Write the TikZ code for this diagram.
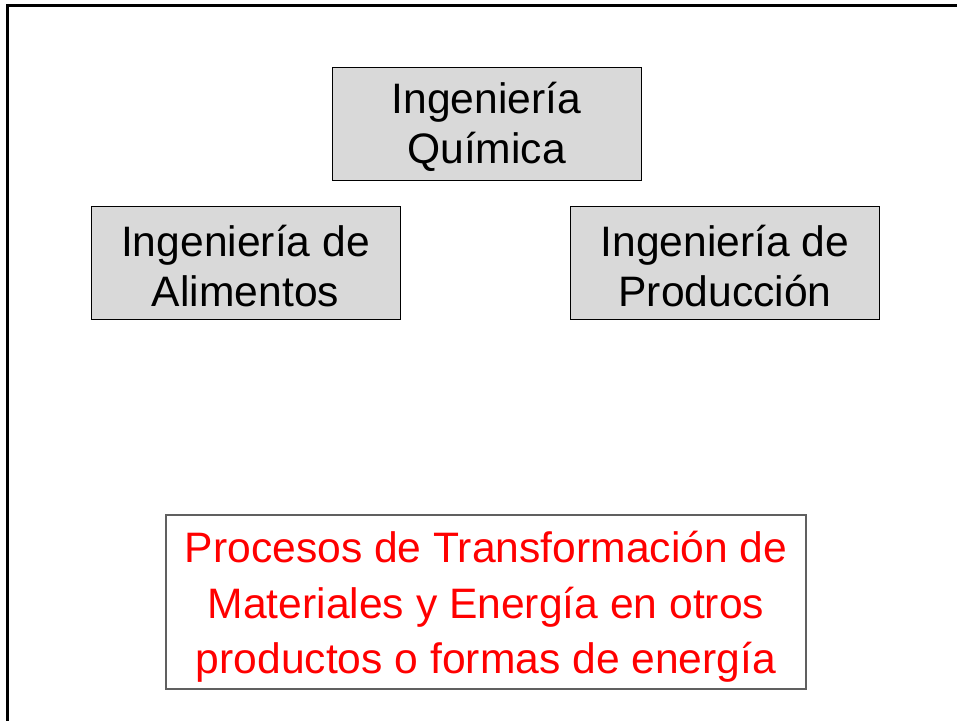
\documentclass[tikz,border=0pt]{standalone}
\usepackage{fontspec}
\setmainfont{Liberation Sans}
\definecolor{boxgray}{HTML}{D9D9D9}
\definecolor{framegray}{HTML}{606060}
\begin{document}
\begin{tikzpicture}[x=1pt,y=-1pt,
  graybox/.style={draw=black, line width=0.8pt, fill=boxgray, minimum width=309pt, minimum height=113pt, inner sep=0pt},
  graytext/.style={inner sep=0pt, align=center, font=\fontsize{42.6}{49.5}\selectfont},
  redbox/.style={draw=framegray, line width=1.5pt, fill=white, minimum width=640pt, minimum height=174pt, inner sep=0pt},
  redtext/.style={inner sep=0pt, align=center, text=red, font=\fontsize{42.6}{55.5}\selectfont},
  frameline/.style={line width=3pt, black}]
\useasboundingbox (0,0) rectangle (957,721);
\coordinate (tl) at (7.5,5.5);
\coordinate (tr) at (957,5.5);
\coordinate (bl) at (7.5,721);
\draw[frameline] (tr) -- (tl) -- (bl);
\node[graybox] (iq) at (486.5,123.5) {};
\node[graytext] (iqt) at ([yshift=-3.5pt]iq.center) {Ingeniería\\Química};
\node[graybox] (ia) at (245.5,262.5) {};
\node[graytext] (iat) at ([yshift=-3.5pt]ia.center) {Ingeniería de\\Alimentos};
\node[graybox] (ip) at (725,262.5) {};
\node[graytext] (ipt) at ([yshift=-3.5pt]ip.center) {Ingeniería de\\Producción};
\node[redbox] (pt) at (486,602) {};
\node[redtext] (ptt) at ([yshift=-5pt]pt.center) {Procesos de Transformación de\\Materiales y Energía en otros\\productos o formas de energía};
\end{tikzpicture}
\end{document}
